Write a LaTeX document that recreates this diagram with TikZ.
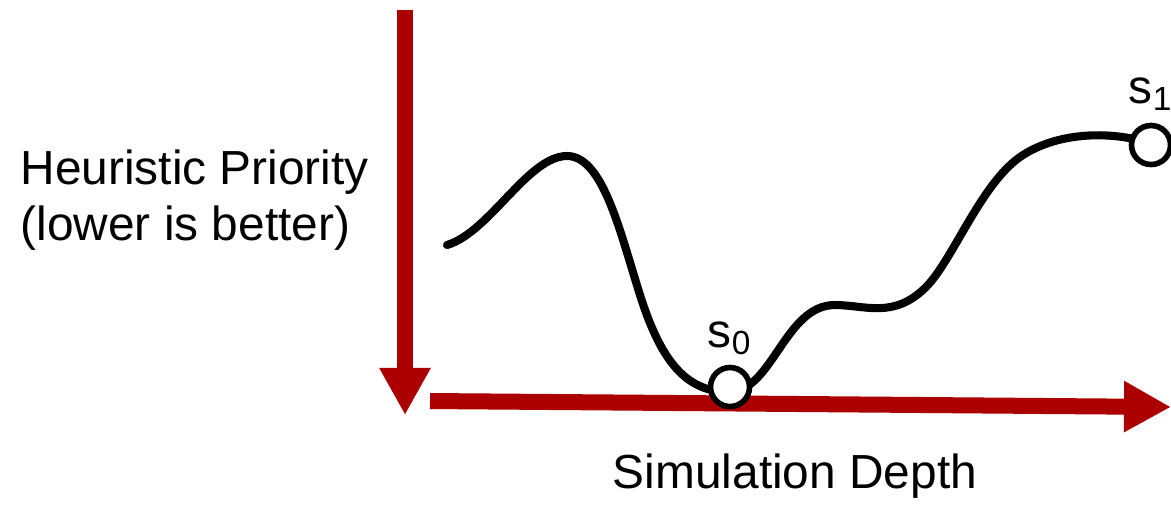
\documentclass[tikz,border=0pt]{standalone}
\usepackage{fontspec}
\setmainfont{Liberation Sans}
\usepackage{xcolor}
\usepackage{tikz}
\usetikzlibrary{arrows.meta, positioning}
\definecolor{axisred}{RGB}{172,0,0}
\tikzset{
  axisarr/.style = {draw=axisred, line width=0.16cm,
                    -{Triangle[length=0.47cm, width=0.48cm, fill=axisred]}},
  curve/.style   = {line width=2.3pt, line cap=round, line join=round},
  state/.style   = {circle, draw, fill=white, line width=1.6pt,
                    minimum size=0.39cm, inner sep=0pt},
  lbl/.style     = {font=\fontsize{13.6}{16}\selectfont, inner sep=0pt},
}

\begin{document}
\begin{tikzpicture}[x=0.01cm, y=-0.01cm]
  \useasboundingbox (0,0) rectangle (1171,505);

  % axes
  \coordinate (ytop) at (405,10);
  \coordinate (ybot) at (405,415);
  \coordinate (xlft) at (430,401);
  \coordinate (xrgt) at (1171,407);
  \draw[axisarr] (ytop) -- (ybot);
  \draw[axisarr] (xlft) -- (xrgt);

  % the priority curve
  \coordinate (cstart) at (447,245);
  \draw[curve] (cstart)
    .. controls (490,232) and (528,156) .. (567,156)
    .. controls (603,156) and (620,232) .. (640,295)
    .. controls (663,368) and (690,392) .. (730,392)
    .. controls (773,390) and (785,305) .. (835,305)
    .. controls (865,305) and (893,319) .. (925,288)
    .. controls (952,262) and (980,185) .. (1020,157)
    .. controls (1050,136) and (1100,128) .. (1150,143);

  % states
  \node[state] (s0) at (730,387) {};
  \node[state] (s1) at (1151,145) {};
  \node[lbl, above=0.09cm of s0] (s0lbl) {s\textsubscript{0}};
  \node[lbl, above=0.11cm of s1] (s1lbl) {s\textsubscript{1}};

  % axis labels
  \node[lbl, anchor=west, align=left] (ylbl) at (20,200)
    {Heuristic Priority\\(lower is better)};
  \node[lbl, anchor=center] (xlbl) at (795,476) {Simulation Depth};
\end{tikzpicture}
\end{document}
